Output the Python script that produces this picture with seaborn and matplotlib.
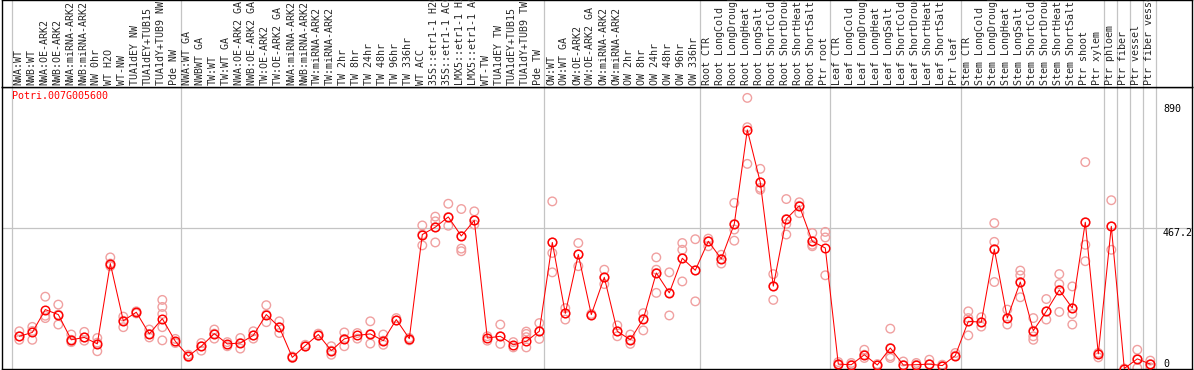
import numpy as np
import pandas as pd
import matplotlib
matplotlib.use("Agg")
import matplotlib.pyplot as plt
import seaborn as sns

gene = "Potri.007G005600"

samples = [
    "NWA:WT", "NWB:WT", "NWA:OE-ARK2", "NWB:OE-ARK2", "NWA:miRNA-ARK2", "NWB:miRNA-ARK2",
    "NW 0hr", "WT H2O", "WT-NW", "TUA1dEY NW", "TUA1dEY+TUB15", "TUA1dY+TUB9 NW", "Pde NW",
    "NWA:WT GA", "NWBWT GA", "TW:WT", "TW:WT GA", "NWA:OE-ARK2 GA", "NWB:OE-ARK2 GA",
    "TW:OE-ARK2", "TW:OE-ARK2 GA", "NWA:miRNA-ARK2", "NWB:miRNA-ARK2", "TW:miRNA-ARK2",
    "TW:miRNA-ARK2", "TW 2hr", "TW 8hr", "TW 24hr", "TW 48hr", "TW 96hr", "TW 336hr",
    "WT ACC", "35S::etr1-1 H2O", "35S::etr1-1 ACC", "LMX5::etr1-1 H2O", "LMX5::etr1-1 ACC",
    "WT-TW", "TUA1dEY TW", "TUA1dEY+TUB15", "TUA1dY+TUB9 TW", "Pde TW",
    "OW:WT", "OW:WT GA", "OW:OE-ARK2", "OW:OE-ARK2 GA", "OW:miRNA-ARK2", "OW:miRNA-ARK2",
    "OW 2hr", "OW 8hr", "OW 24hr", "OW 48hr", "OW 96hr", "OW 336hr",
    "Root CTR", "Root LongCold", "Root LongDrought", "Root LongHeat", "Root LongSalt",
    "Root ShortCold", "Root ShortDrought", "Root ShortHeat", "Root ShortSalt", "Ptr root",
    "Leaf CTR", "Leaf LongCold", "Leaf LongDrought", "Leaf LongHeat", "Leaf LongSalt",
    "Leaf ShortCold", "Leaf ShortDrought", "Leaf ShortHeat", "Leaf ShortSalt", "Ptr leaf",
    "Stem CTR", "Stem LongCold", "Stem LongDrought", "Stem LongHeat", "Stem LongSalt",
    "Stem ShortCold", "Stem ShortDrought", "Stem ShortHeat", "Stem ShortSalt", "Ptr shoot",
    "Ptr xylem", "Ptr phloem", "Ptr fiber", "Ptr vessel", "Ptr fiber vessel",
]

mean_expr = [
    98, 111, 189, 172, 86, 94, 72, 346, 151, 180, 106, 158, 81,
    30, 64, 107, 72, 75, 101, 172, 129, 26, 66, 104, 49, 89, 101, 106, 83, 155, 90,
    445, 470, 505, 440, 493, 92, 98, 69, 81, 115,
    418, 176, 377, 172, 299, 115, 86, 157, 314, 246, 364, 323,
    422, 362, 481, 802, 623, 269, 498, 543, 422, 399,
    3, 1, 35, 0, 58, 0, 1, 3, -2, 32,
    149, 146, 395, 160, 283, 117, 183, 256, 194, 487,
    38, 473, -12, 21, 3,
]

rep_expr = [
    [115, 98, 86], [130, 116, 86], [233, 168, 160], [206, 172, 138], [104, 86, 78],
    [113, 94, 83], [92, 76, 47], [367, 346, 337], [165, 151, 129], [183, 176],
    [121, 106, 94], [222, 198, 174, 129, 84], [89, 75],
    [35, 27], [75, 64, 49], [121, 107, 90], [78, 64], [92, 75, 56], [115, 101, 90],
    [204, 172, 146], [149, 129, 109], [29, 24], [69, 63], [107, 100], [64, 49, 35],
    [111, 89, 64], [109, 90], [149, 106, 73], [104, 83, 69], [160, 152], [92, 84],
    [476, 445, 408], [506, 490, 470, 418], [550, 505, 475], [532, 440, 397, 388],
    [524, 493, 479], [98, 83], [138, 98, 72], [78, 60], [114, 106, 95, 60], [143, 115, 89],
    [558, 418, 382, 316], [194, 176, 155], [416, 377, 337], [174, 170], [325, 299, 276],
    [135, 115, 98], [104, 86, 72], [177, 157, 118], [367, 325, 314, 246], [316, 246, 169],
    [416, 393, 364, 285], [429, 323, 217],
    [431, 422, 405], [376, 362, 346], [553, 481, 462, 424], [911, 811, 686],
    [669, 623, 604, 598], [310, 269, 222], [566, 498, 481, 445], [555, 543, 518],
    [450, 422, 410, 405], [454, 435, 306],
    [10, 3, 0], [7, 1], [52, 35, 24], [3, 0], [124, 58, 30, 24], [12, 0], [7, 1],
    [18, 3], [1, -2], [41, 32],
    [183, 160, 149, 101], [163, 146, 131], [484, 420, 395, 283], [189, 160, 138],
    [322, 306, 283, 231], [160, 117, 98, 86], [225, 183, 155], [310, 276, 256, 181],
    [268, 194, 174, 138], [692, 487, 410, 354],
    [41, 38, 26], [562, 473, 393], [-12], [52, 21, -10], [15, 3, -8],
]

# columns after which a group separator is drawn
group_ends = [-1, 12, 40, 52, 62, 72, 83, 84, 85, 86, 87]
y_ticks = [890, 467.2, 0]
y_tick_labels = ["890", "467.2", "0"]

sns.set_style("white")
plt.rcParams["font.family"] = ["DejaVu Sans Mono"]

W, H = 1194, 370
fig = plt.figure(figsize=(W / 100, H / 100), dpi=100)

x0, x1 = (2 - 19.3) / 13, (1192 - 19.3) / 13
ymin, ymax = (365 - 369) / 0.2932, (365 - 87) / 0.2932

ax = fig.add_axes([2 / W, 1 / H, 1190 / W, 282 / H])
hdr = fig.add_axes([2 / W, 283 / H, 1190 / W, 87 / H])

grid_c = "#c4c4c4"
for a in (ax, hdr):
    a.set_xlim(x0, x1)
    for g in group_ends:
        a.axvline(g + 0.4, color=grid_c, lw=0.9, zorder=0)
    a.set_xticks([])
    a.set_yticks([])
    for s in a.spines.values():
        s.set_color("black")
        s.set_linewidth(1.0)
hdr.set_ylim(0, 1)
ax.set_ylim(ymin, ymax)
ax.axhline(467.2, color=grid_c, lw=0.9, zorder=0)

# replicate values
rep_df = pd.DataFrame(
    [(i, v) for i, vals in enumerate(rep_expr) for v in vals], columns=["col", "value"]
)
sns.scatterplot(data=rep_df, x="col", y="value", ax=ax, marker="o", s=38,
                facecolors="none", edgecolor="#f0a0a0", linewidth=1.0, zorder=2, clip_on=True)

mean_df = pd.DataFrame({"col": np.arange(len(mean_expr)), "value": mean_expr})
sns.lineplot(data=mean_df, x="col", y="value", ax=ax, color="red", lw=0.75,
             marker="o", ms=6.2, mfc="none", mec="red", mew=1.05, zorder=3)
ax.set_xlabel("")
ax.set_ylabel("")

ax.text(10 / 1190, 1 - 4 / 282, gene, transform=ax.transAxes, color="red",
        fontsize=7.2, ha="left", va="top")

for v, lab in zip(y_ticks, y_tick_labels):
    yy = max(v, (365 - 358.7) / 0.2932)
    ax.text((1163 - 19.3) / 13, yy, lab, fontsize=7.2, ha="left", va="top", color="black")

# long labels are clipped at the top of the header, as in the original
for i, lab in enumerate(samples):
    hdr.text(i - 0.1, 2 / 87, lab, rotation=90, ha="center", va="bottom",
             fontsize=7.2, clip_on=True)

fig.savefig("out.png", dpi=100)
